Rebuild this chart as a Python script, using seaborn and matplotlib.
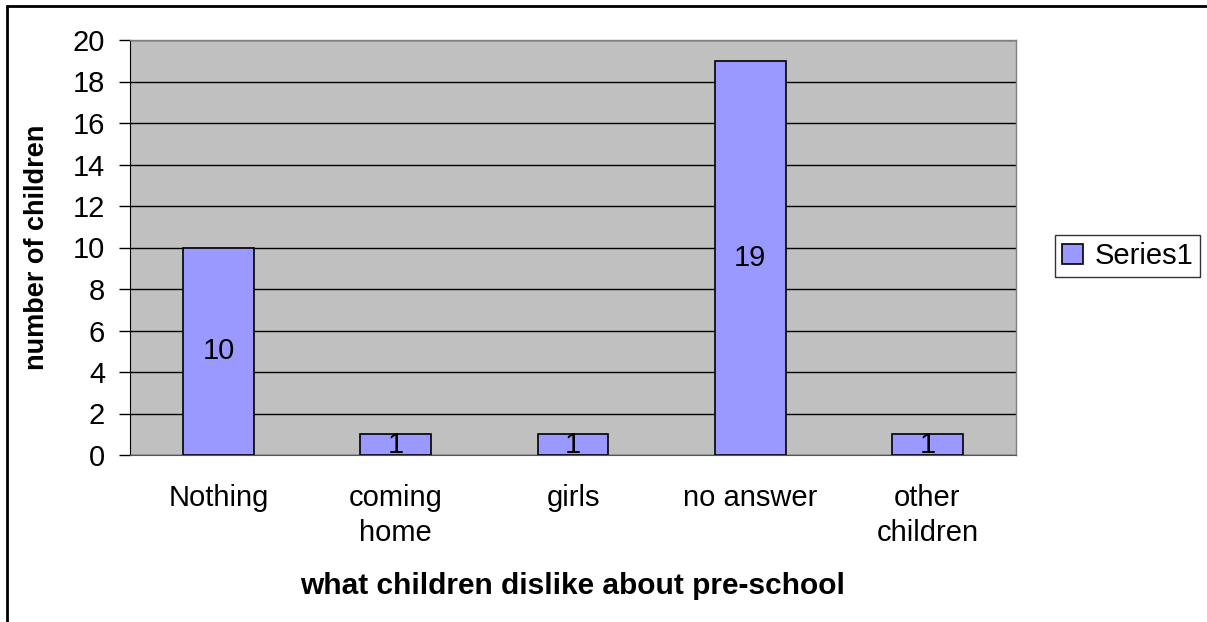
import matplotlib.pyplot as plt
import matplotlib.lines as mlines
import pandas as pd
import seaborn as sns

categories = ["Nothing", "coming\nhome", "girls", "no answer", "other\nchildren"]
counts = [10, 1, 1, 19, 1]
series_name = "Series1"
y_ticks = list(range(0, 21, 2))

BAR_COLOR = "#9999FF"
PLOT_BG = "#C0C0C0"

sns.set_style("white")
plt.rcParams["font.family"] = ["Liberation Sans", "DejaVu Sans"]
plt.rcParams["text.color"] = "black"
plt.rcParams["axes.labelcolor"] = "black"
plt.rcParams["xtick.color"] = "black"
plt.rcParams["ytick.color"] = "black"

df = pd.DataFrame({"category": categories, "count": counts})

fig = plt.figure(figsize=(12.07, 6.22), dpi=100)
ax = fig.add_axes([130 / 1207, 1 - 455 / 622, (1016 - 130) / 1207, (455 - 40) / 622])
ax.set_facecolor(PLOT_BG)

sns.barplot(data=df, x="category", y="count", color=BAR_COLOR, width=0.4,
            edgecolor="black", linewidth=1.2, saturation=1, ax=ax,
            label=series_name, zorder=3)

ax.set_ylim(0, 20)
ax.set_xlim(-0.5, len(categories) - 0.5)
ax.set_yticks(y_ticks)
ax.set_yticklabels([str(t) for t in y_ticks], fontsize=21)
ax.yaxis.grid(True, color="black", linewidth=1, zorder=0)
ax.set_axisbelow(True)

# category labels between boundary ticks
ax.set_xticks([i - 0.5 for i in range(len(categories) + 1)])
ax.set_xticklabels([])
ax.set_xticks(range(len(categories)), minor=True)
ax.set_xticklabels(categories, minor=True, fontsize=21, linespacing=1.3)
ax.tick_params(axis="x", which="minor", length=0, pad=21)
ax.tick_params(axis="x", which="major", length=8, width=1, color="#555555", direction="out")
ax.tick_params(axis="y", length=8, width=1, color="black", direction="out", left=True, pad=10)

for side in ["top", "right"]:
    ax.spines[side].set_color("#808080")
    ax.spines[side].set_linewidth(1)
ax.spines["left"].set_color("black")
ax.spines["bottom"].set_color("#555555")

for cont in ax.containers:
    ax.bar_label(cont, labels=[str(v) for v in counts], label_type="center", fontsize=21)

ax.set_xlabel("what children dislike about pre-school", fontsize=21.5, fontweight="bold", labelpad=18)
ax.set_ylabel("number of children", fontsize=19.5, fontweight="bold", labelpad=16)

leg = ax.legend(loc="center left", bbox_to_anchor=(1055 / 1207, 1 - 256 / 622),
                bbox_transform=fig.transFigure, fontsize=21, frameon=True,
                fancybox=False, edgecolor="black", handlelength=0.7, handleheight=0.7,
                handletextpad=0.4, borderpad=0.25, borderaxespad=0)
leg.get_frame().set_linewidth(1)

# outer chart border (only top and left show in the crop)
fig.add_artist(mlines.Line2D([7 / 1207, 1], [1 - 6 / 622, 1 - 6 / 622], color="black", linewidth=2))
fig.add_artist(mlines.Line2D([7 / 1207, 7 / 1207], [0, 1 - 6 / 622], color="black", linewidth=2))

fig.savefig("out.png", dpi=100)
